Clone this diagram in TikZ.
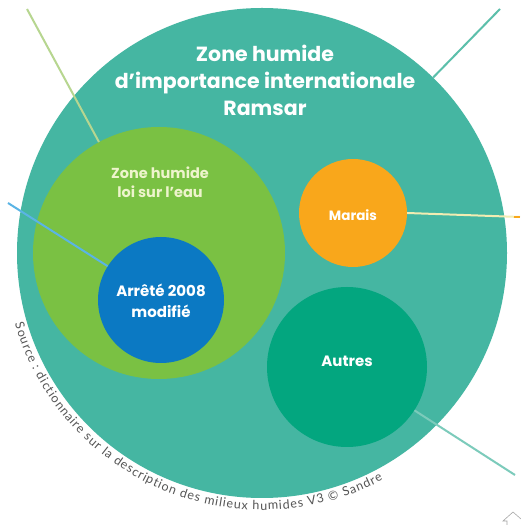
\documentclass[tikz,border=0pt]{standalone}
\usepackage{fontspec}
\setmainfont{Lato}
\newfontfamily\labelfont{Poppins}
\usetikzlibrary{decorations.text}
\definecolor{bigc}{HTML}{45B6A2}
\definecolor{greenc}{HTML}{7AC143}
\definecolor{bluec}{HTML}{0B79C3}
\definecolor{orangec}{HTML}{F9A71B}
\definecolor{autresc}{HTML}{03A67F}
\definecolor{creamtxt}{HTML}{EEF4CC}
\definecolor{srcgray}{HTML}{555555}
\definecolor{lnpalegreen}{HTML}{B7D690}
\definecolor{lnteal}{HTML}{5CBFAB}
\definecolor{lnblue}{HTML}{5AB4E5}
\definecolor{lnyellow}{HTML}{F2ECB2}
\definecolor{lnlightteal}{HTML}{7CCBBB}
\begin{document}
\begin{tikzpicture}[x=1pt,y=1pt,
  circ/.style={circle,inner sep=0pt,draw=none,minimum size=#1},
  lbl/.style={align=center,text=white,font=\labelfont\bfseries\fontsize{14.5}{19}\selectfont},
  conn/.style={line width=2pt}]
\useasboundingbox (0,0) rectangle (521,525);
\fill[white] (0,0) rectangle (521,525);
% circles
\node[circ=490,fill=bigc] (big) at (262,272) {};
\node[circ=252,fill=greenc] (green) at (159,272) {};
\node[circ=126,fill=bluec] (blue) at (161,225) {};
\node[circ=108,fill=orangec] (marais) at (353,312) {};
\node[circ=160,fill=autresc] (autres) at (347,158) {};
% labels
\node[lbl,font=\labelfont\bfseries\fontsize{20.5}{27}\selectfont] (ttl) at (265,445) {Zone humide\\d’importance internationale\\Ramsar};
\node[lbl,text=creamtxt] (tgreen) at (160,343) {Zone humide\\loi sur l’eau};
\node[lbl,font=\labelfont\bfseries\fontsize{15}{21}\selectfont] (tblue) at (161,224) {Arrêté 2008\\modifié};
\node[lbl,font=\labelfont\bfseries\fontsize{13.5}{19}\selectfont] (tmarais) at (353,310) {Marais};
\node[lbl,font=\labelfont\bfseries\fontsize{15}{19}\selectfont] (tautres) at (347,164) {Autres};
% free ends of connectors
\coordinate (tlend) at (27,516);
\coordinate (trend) at (500,516);
\coordinate (lend) at (8,322);
\coordinate (rend) at (520,308);
\coordinate (rtip) at (514,308);
\coordinate (brend) at (515,50);
% connectors
\draw[conn,lnpalegreen] (tlend) -- (green);
\draw[conn,lnteal] (trend) -- (big);
\draw[conn,lnblue] (lend) -- (blue);
\draw[conn,lnyellow] (marais.east) -- (rend);
\draw[conn,orangec] (rtip) -- (rend);
\draw[conn,lnlightteal] (autres) -- (brend);
% source text along the circle
\path[decorate,decoration={text along path,text align=fit to path,text color=srcgray,
  text={|\fontsize{12.5}{12.5}\selectfont|Source : dictionnaire sur la  description des milieux humides V3 © Sandre}}]
  (big.center) ++(196:257) arc[start angle=196,end angle=298,radius=257];
% small icon at bottom right
\draw[gray!70,line width=0.6pt] (507,0) -- (507,4) -- (503,4) -- (513,13) -- (521,6);
\end{tikzpicture}
\end{document}
